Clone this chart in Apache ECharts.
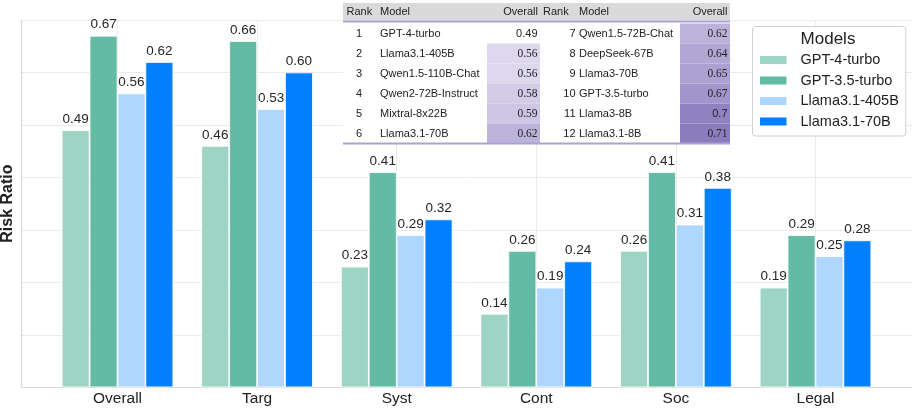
<!DOCTYPE html>
<html>
<head>
<meta charset="utf-8">
<script src="https://cdn.jsdelivr.net/npm/echarts@6/dist/echarts.min.js"></script>
<style>
    html,body{margin:0;padding:0;background:#fff;}
    #chart{width:914px;height:408px;}
</style>
</head>
<body>
<div id="chart"></div>
<script>
const categories = ['Overall','Targ','Syst','Cont','Soc','Legal'];
const seriesNames = ['GPT-4-turbo','GPT-3.5-turbo','Llama3.1-405B','Llama3.1-70B'];
const gpt4Turbo = [0.49,0.46,0.23,0.14,0.26,0.19];
const gpt35Turbo = [0.67,0.66,0.41,0.26,0.41,0.29];
const llama405b = [0.56,0.53,0.29,0.19,0.31,0.25];
const llama70b = [0.62,0.60,0.32,0.24,0.38,0.28];
const yTicks = [0,0.1,0.2,0.3,0.4,0.5,0.6,0.7];

// ranking table (top right)
const rankNums = [1,2,3,4,5,6,7,8,9,10,11,12];
const rankModels = ['GPT-4-turbo','Llama3.1-405B','Qwen1.5-110B-Chat','Qwen2-72B-Instruct','Mixtral-8x22B','Llama3.1-70B',
    'Qwen1.5-72B-Chat','DeepSeek-67B','Llama3-70B','GPT-3.5-turbo','Llama3-8B','Llama3.1-8B'];
const rankScores = [0.49,0.56,0.56,0.58,0.59,0.62,0.62,0.64,0.65,0.67,0.7,0.71];

const colors = ['#9dd4c4','#63bba3','#aed6fe','#0080ff'];
const font = '"Liberation Sans", Arial, sans-serif';

function cellColor(v){
    if(v<=0.49) return '#ffffff';
    const a=[221,216,237], b=[139,124,190];
    const t=Math.min(1,Math.max(0,(v-0.56)/(0.71-0.56)));
    const c=a.map((x,i)=>Math.round(x+(b[i]-x)*t));
    return 'rgb('+c.join(',')+')';
}

function txt(x,y,text,align,opt){
    opt=opt||{};
    return {
        type:'text', x:x, y:y, z:101,
        style:{
            text:text,
            font:(opt.font||('11px '+font)),
            fill:opt.fill||'#222',
            textAlign:align, align:align,
            textVerticalAlign:'middle', verticalAlign:'middle'
        }
    };
}

function buildTable(){
    const els=[];
    const x0=343, x1=730;
    els.push({type:'rect',z:100,shape:{x:x0,y:3,width:x1-x0,height:141},style:{fill:'#fff'}});
    els.push({type:'rect',z:100,shape:{x:x0,y:3,width:x1-x0,height:17.5},style:{fill:'#dadada'}});
    const headY=12;
    els.push(txt(346.5,headY,'Rank','left'));
    els.push(txt(380,headY,'Model','left'));
    els.push(txt(538,headY,'Overall','right'));
    els.push(txt(543,headY,'Rank','left'));
    els.push(txt(579,headY,'Model','left'));
    els.push(txt(727.5,headY,'Overall','right'));
    rankNums.forEach((r,i)=>{
        const col=i<6?0:1;
        const row=i%6;
        const cy=33.5+row*20;
        const cell=col===0?[487,540]:[680,730];
        const v=rankScores[i];
        els.push({type:'rect',z:100,shape:{x:cell[0],y:cy-10,width:cell[1]-cell[0],height:20},style:{fill:cellColor(v)}});
        if(col===0){
            els.push(txt(359,cy,String(r),'center'));
            els.push(txt(380,cy,rankModels[i],'left'));
        }else{
            els.push(txt(575.5,cy,String(r),'right'));
            els.push(txt(579,cy,rankModels[i],'left'));
        }
        const serif=v>0.49&&v!==0.7;
        els.push(txt(cell[1]-2.5,cy,String(v),'right',{font:serif?'11.5px "Liberation Serif", serif':'11px '+font}));
    });
    els.push({type:'rect',z:101,shape:{x:x0,y:20.5,width:x1-x0,height:2},style:{fill:'#aba3d3'}});
    els.push({type:'rect',z:101,shape:{x:x0,y:142.5,width:x1-x0,height:2},style:{fill:'#aba3d3'}});
    return els;
}

const seriesData=[gpt4Turbo,gpt35Turbo,llama405b,llama70b];

const option={
    animation:false,
    color:colors,
    textStyle:{fontFamily:font},
    grid:[
        {left:21,right:2,top:20,bottom:20.7,containLabel:false,outerBoundsMode:'none'},
        {left:117.5,right:98.5,top:20,bottom:20.7,containLabel:false,outerBoundsMode:'none'}
    ],
    legend:{
        orient:'vertical',
        left:752.5,
        top:26.5,
        padding:[26,7,7,5.5],
        itemWidth:28.5,
        itemHeight:10,
        itemGap:5.5,
        icon:'rect',
        backgroundColor:'#fff',
        borderColor:'#d0d0d0',
        borderWidth:1,
        borderRadius:3,
        z:50,
        data:seriesNames,
        textStyle:{
            fontFamily:font,
            fontSize:14.5,
            lineHeight:15,
            color:'#222',
            padding:[0,0,0,8]
        }
    },
    xAxis:[
        {
            gridIndex:0,
            type:'value',
            min:0,
            max:1,
            axisLine:{show:true,lineStyle:{color:'#d9d9d9',width:1.2}},
            axisTick:{show:false},
            axisLabel:{show:false},
            splitLine:{show:false}
        },
        {
            gridIndex:1,
            type:'category',
            data:categories,
            boundaryGap:false,
            axisLine:{show:false},
            axisTick:{show:false},
            axisLabel:{
                color:'#222',
                fontSize:15.5,
                fontFamily:font,
                margin:3
            },
            splitLine:{show:true,lineStyle:{color:'#ebebeb',width:1}}
        }
    ],
    yAxis:[
        {
            gridIndex:0,
            type:'value',
            min:yTicks[0],
            max:yTicks[yTicks.length-1],
            interval:0.1,
            name:'Risk Ratio',
            nameLocation:'middle',
            nameGap:5,
            nameTextStyle:{
                fontFamily:font,
                fontWeight:'bold',
                fontSize:16,
                color:'#222'
            },
            axisLine:{show:true,lineStyle:{color:'#d9d9d9',width:1.2}},
            axisTick:{show:false},
            axisLabel:{show:false},
            splitLine:{show:true,lineStyle:{color:'#ebebeb',width:1}}
        },
        {
            gridIndex:1,
            type:'value',
            min:yTicks[0],
            max:yTicks[yTicks.length-1],
            interval:0.1,
            show:false
        }
    ],
    series:seriesData.map((d,i)=>({
        name:seriesNames[i],
        type:'bar',
        xAxisIndex:1,
        yAxisIndex:1,
        data:d,
        clip:false,
        barWidth:27.9,
        barGap:'0%',
        itemStyle:{
            color:colors[i],
            borderColor:'#ffffff',
            borderWidth:0.8
        },
        label:{
            show:true,
            position:'top',
            distance:4,
            color:'#262626',
            fontSize:13.5,
            fontFamily:font,
            formatter:function(p){
                return p.value.toFixed(2);
            }
        }
    })),
    graphic:buildTable().concat([
        {
            type:'text', x:828, y:39.5, z:102,
            style:{
                text:'Models',
                font:'17px '+font,
                fill:'#222',
                textAlign:'center', align:'center',
                textVerticalAlign:'middle', verticalAlign:'middle'
            }
        }
    ])
};

const chart=echarts.init(document.getElementById('chart'));
chart.setOption(option);
window.addEventListener('resize',function(){
    chart.resize();
});
</script>
</body>
</html>
